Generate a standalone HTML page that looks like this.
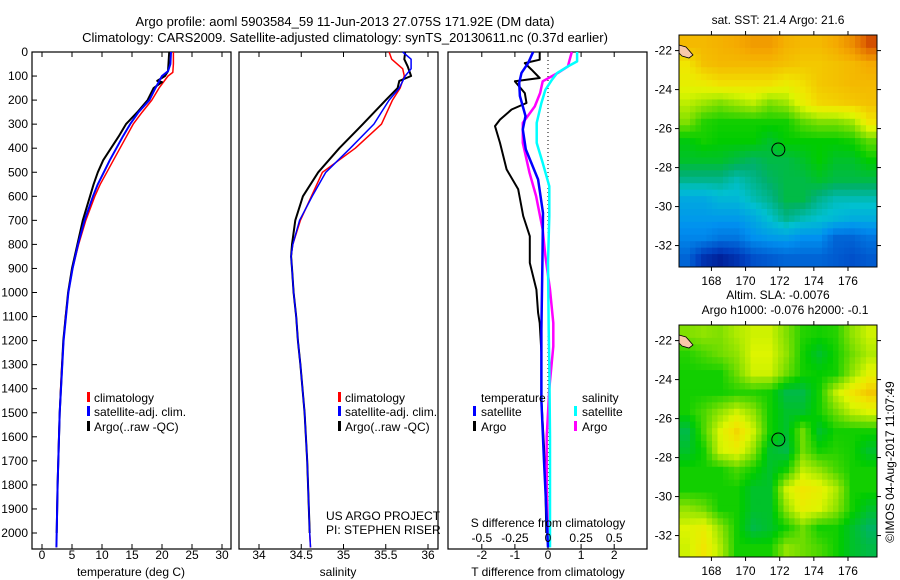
<!DOCTYPE html>
<html><head><meta charset="utf-8"><style>
body{margin:0;background:#fff;}
svg{display:block;font-family:"Liberation Sans",sans-serif;}
</style></head><body>
<svg id="c" width="900" height="580" viewBox="0 0 900 580">
<g id="maps"></g>
<text x="345" y="26" font-size="13" text-anchor="middle">Argo profile: aoml 5903584_59 11-Jun-2013 27.075S 171.92E (DM data)</text>
<text x="345" y="42" font-size="13" text-anchor="middle">Climatology: CARS2009. Satellite-adjusted climatology: synTS_20130611.nc (0.37d earlier)</text>
<g id="g"></g>
</svg>
<script>
// ---------- data ----------
const depthTick=[0,100,200,300,400,500,600,700,800,900,1000,1100,1200,1300,1400,1500,1600,1700,1800,1900,2000];
const tempTicks=[0,5,10,15,20,25,30];
const salTicks=[34,34.5,35,35.5,36];
const salTickLabels=['34','34.5','35','35.5','36'];
const tdTicks=[-2,-1,0,1,2];
const sdTicks=[-0.5,-0.25,0,0.25,0.5];
const sdTickLabels=['-0.5','-0.25','0','0.25','0.5'];

const tClimD=[0,50,85,100,150,200,250,300,350,400,450,500,550,600,700,800,900,1000,1100,1200,1300,1400,1500,1600,1700,1800,1900,2000,2060];
const tClim=[21.9,21.9,21.8,21.0,19.5,18.3,16.7,15.2,14.1,13.0,11.9,10.8,9.7,8.8,7.3,6.1,5.1,4.4,3.9,3.6,3.3,3.1,2.95,2.8,2.7,2.6,2.5,2.45,2.4];
const tSatD=[0,50,80,100,150,200,250,300,350,400,450,500,550,600,700,800,900,1000,1200,1500,1800,2000,2060];
const tSat=[21.5,21.4,21.0,20.0,18.9,17.9,16.1,14.7,13.5,12.4,11.3,10.3,9.3,8.5,7.1,6.0,5.1,4.4,3.6,2.95,2.6,2.45,2.4];
const tArgoD=[0,80,100,120,125,150,200,250,300,350,400,450,500,550,600,700,800,900,1000,1200,1500,1800,2000];
const tArgo=[21.2,21.0,20.5,19.2,20.0,18.6,17.6,15.9,14.0,12.8,11.5,10.2,9.3,8.6,8.0,6.8,5.9,5.0,4.35,3.55,2.95,2.6,2.45];

const sClimD=[0,30,70,100,150,200,300,400,500,600,700,800,850,900,1000,1100,1200,1300,1500,1700,2000,2060];
const sClim=[35.54,35.57,35.70,35.72,35.67,35.58,35.45,35.14,34.75,34.62,34.49,34.40,34.38,34.39,34.41,34.44,34.46,34.49,34.54,34.57,34.60,34.61];
const sSatD=[0,30,70,100,150,200,300,400,500,600,700,800,850,900,1000,1100,1200,1300,1500,1700,2000,2060];
const sSat=[35.70,35.80,35.80,35.73,35.66,35.54,35.36,35.08,34.79,34.63,34.48,34.40,34.38,34.39,34.41,34.44,34.46,34.49,34.54,34.57,34.60,34.61];
const sArgoD=[0,30,60,100,120,150,200,300,400,500,600,700,800,850,900,1000,1100,1200,1300,1500,1700,2000];
const sArgo=[35.73,35.72,35.76,35.80,35.66,35.64,35.50,35.23,34.95,34.70,34.52,34.43,34.39,34.38,34.39,34.41,34.44,34.46,34.49,34.54,34.57,34.60];

const dTSatD=[0,46,87,129,183,266,322,405,530,669,877,1154,1279,1450,1700,1900,2060];
const dTSat=[-0.45,-0.6,-0.8,-0.87,-0.85,-0.68,-0.76,-0.67,-0.3,-0.15,-0.17,-0.2,-0.2,-0.2,-0.12,-0.05,0];
const dTArgoD=[0,32,46,73,108,122,171,212,239,281,308,378,488,571,682,766,877,988,1085,1127,1250,1450,1640,1800,2000];
const dTArgo=[-0.25,-0.25,-0.7,-0.5,-0.25,-1.0,-0.7,-0.65,-1.1,-1.45,-1.6,-1.45,-1.25,-0.9,-0.75,-0.55,-0.55,-0.35,-0.3,-0.25,-0.2,-0.2,-0.12,-0.08,-0.05];
const dSArgoD=[0,39,60,87,122,171,226,295,378,502,599,738,849,988,1127,1224,1400,1600,1800,2000];
const dSArgo=[0.18,0.16,0.15,0.075,-0.04,-0.06,-0.1,-0.19,-0.19,-0.14,-0.09,-0.04,-0.02,0.015,0.04,0.04,0.01,-0.01,-0.01,0];
const dSSatD=[0,39,60,87,115,157,212,295,378,461,558,682,877,1154,1300,1600,1900,2060];
const dSSat=[0.22,0.22,0.15,0.07,0.03,-0.02,-0.05,-0.085,-0.085,-0.04,0.01,0.01,0,0.005,0.01,0.015,0.015,0.015];

const lonTicks=[168,170,172,174,176];
const latTicks=[-22,-24,-26,-28,-30,-32];
const sstGrid=[
[0.78,0.78,0.79,0.8,0.82,0.82,0.79,0.78,0.78,0.8,0.84,0.92],
[0.72,0.77,0.78,0.78,0.78,0.78,0.77,0.76,0.76,0.77,0.78,0.8],
[0.7,0.71,0.73,0.73,0.73,0.73,0.71,0.73,0.76,0.77,0.78,0.78],
[0.66,0.64,0.62,0.64,0.66,0.62,0.64,0.7,0.74,0.75,0.76,0.77],
[0.62,0.57,0.56,0.56,0.56,0.56,0.56,0.6,0.62,0.62,0.64,0.72],
[0.54,0.56,0.55,0.55,0.55,0.52,0.55,0.55,0.55,0.55,0.56,0.6],
[0.52,0.52,0.52,0.5,0.48,0.5,0.5,0.52,0.55,0.52,0.52,0.55],
[0.45,0.45,0.45,0.42,0.45,0.48,0.5,0.5,0.52,0.5,0.5,0.5],
[0.35,0.35,0.38,0.38,0.42,0.45,0.5,0.5,0.45,0.42,0.42,0.42],
[0.32,0.32,0.32,0.32,0.35,0.4,0.45,0.42,0.4,0.38,0.36,0.36],
[0.28,0.28,0.25,0.25,0.3,0.32,0.33,0.3,0.3,0.22,0.22,0.25],
[0.22,0.12,0.08,0.12,0.18,0.2,0.22,0.22,0.22,0.2,0.18,0.2]];
const slaGrid=[
[0.62,0.63,0.62,0.65,0.67,0.67,0.62,0.57,0.56,0.57,0.63,0.67],
[0.57,0.59,0.61,0.63,0.68,0.68,0.63,0.56,0.52,0.56,0.61,0.65],
[0.56,0.56,0.56,0.61,0.67,0.67,0.61,0.56,0.55,0.56,0.63,0.69],
[0.56,0.56,0.56,0.57,0.57,0.56,0.5,0.5,0.56,0.66,0.72,0.76],
[0.56,0.59,0.63,0.67,0.63,0.56,0.52,0.52,0.56,0.61,0.66,0.68],
[0.5,0.59,0.68,0.74,0.67,0.56,0.52,0.61,0.52,0.56,0.56,0.56],
[0.52,0.56,0.67,0.7,0.63,0.52,0.5,0.61,0.56,0.57,0.56,0.52],
[0.56,0.56,0.56,0.59,0.56,0.52,0.56,0.66,0.63,0.59,0.56,0.56],
[0.56,0.56,0.56,0.56,0.52,0.52,0.67,0.72,0.7,0.65,0.56,0.56],
[0.63,0.61,0.56,0.56,0.52,0.52,0.63,0.7,0.68,0.63,0.56,0.52],
[0.68,0.7,0.63,0.56,0.5,0.52,0.56,0.61,0.56,0.56,0.52,0.48],
[0.67,0.72,0.65,0.56,0.56,0.56,0.63,0.61,0.59,0.56,0.52,0.5]];
const argoLon=171.92, argoLat=-27.075;

// ---------- drawing ----------
const NS='http://www.w3.org/2000/svg';
const G=document.getElementById('g'), M=document.getElementById('maps');
function el(tag,attrs,parent,txt){const e=document.createElementNS(NS,tag);for(const k in attrs)e.setAttribute(k,attrs[k]);if(txt!==undefined)e.textContent=txt;(parent||G).appendChild(e);return e;}
const Y0=52, PY=0.2405;
const yD=d=>Y0+d*PY;
const PT=52, PB=549;
function frame(x0,x1,name){
  const r=el('rect',{x:x0,y:PT,width:x1-x0,height:PB-PT,fill:'none',stroke:'#000','stroke-width':1.2});
  
  
}
function xticks(xs,fn,labels,ly){
  xs.forEach((v,i)=>{const x=fn(v);
    el('line',{x1:x,x2:x,y1:PT,y2:PT+5,stroke:'#000'});
    el('line',{x1:x,x2:x,y1:PB,y2:PB-5,stroke:'#000'});
    if(labels){const t=el('text',{x:x,y:ly,'font-size':12,'text-anchor':'middle'},G,labels[i]);
      
      }
  });
}
function line(ds,vs,fn,color,w,name){
  const p=ds.map((d,i)=>(i?'L':'M')+fn(vs[i]).toFixed(1)+' '+yD(d).toFixed(1)).join(' ');
  const e=el('path',{d:p,fill:'none',stroke:color,'stroke-width':w,'stroke-linejoin':'round'});
  
  
}
function txt(x,y,s,name,anchor){const t=el('text',{x:x,y:y,'font-size':12,'text-anchor':anchor||'start'},G,s);
  
  return t;}
function legBar(x,y,color){el('rect',{x:x,y:y-10,width:3,height:10,fill:color});}

// panel 1 temperature
const xT=v=>42+v*6;
frame(32,231,'temperature-panel');
depthTick.forEach(d=>{const y=yD(d);el('line',{x1:32,x2:37,y1:y,y2:y,stroke:'#000'});
  const t=el('text',{x:28,y:y+4,'font-size':12,'text-anchor':'end'},G,String(d));
  
  });
xticks(tempTicks,xT,tempTicks.map(String),559);
line(tClimD,tClim,xT,'#f00',1.5,'temp-climatology-line');
line(tArgoD,tArgo,xT,'#000',2,'temp-argo-line');
line(tSatD,tSat,xT,'#00f',2,'temp-satellite-line');
txt(131,576,'temperature (deg C)','x-axis-title-temperature','middle');
legBar(87,402,'#f00');txt(94,402,'climatology','legend-climatology');
legBar(87,416,'#00f');txt(94,416,'satellite-adj. clim.','legend-satellite');
legBar(87,431,'#000');txt(94,431,'Argo(..raw -QC)','legend-argo');

// panel 2 salinity
const xS=v=>259+(v-34)*84.5;
frame(239,438,'salinity-panel');
xticks(salTicks,xS,salTickLabels,559);
line(sClimD,sClim,xS,'#f00',1.5,'sal-climatology-line');
line(sArgoD,sArgo,xS,'#000',2,'sal-argo-line');
line(sSatD,sSat,xS,'#00f',1.5,'sal-satellite-line');
txt(338,576,'salinity','x-axis-title-salinity','middle');
legBar(338,402,'#f00');txt(345,402,'climatology','legend-climatology-2');
legBar(338,416,'#00f');txt(345,416,'satellite-adj. clim.','legend-satellite-2');
legBar(338,431,'#000');txt(345,431,'Argo(..raw -QC)','legend-argo-2');
txt(326,520,'US ARGO PROJECT','project-label');
txt(326,534,'PI: STEPHEN RISER','pi-label');

// panel 3 differences
const xTD=v=>548+v*33.1;
const xSD=v=>548+v*132.4;
frame(448,647,'difference-panel');
xticks(tdTicks,xTD,tdTicks.map(String),559);
el('line',{x1:xTD(0),x2:xTD(0),y1:PT,y2:PB,stroke:'#000','stroke-dasharray':'1,3'});
line(dTArgoD,dTArgo,xTD,'#000',2,'tdiff-argo-line');
line(dSArgoD,dSArgo,xSD,'#f0f',2.5,'sdiff-argo-line');
line(dSSatD,dSSat,xSD,'#0ff',2.5,'sdiff-satellite-line');
line(dTSatD,dTSat,xTD,'#00f',2.5,'tdiff-satellite-line');
sdTicks.forEach((v,i)=>{const t=el('text',{x:xSD(v),y:542,'font-size':12,'text-anchor':'middle'},G,sdTickLabels[i]);
  
  });
txt(548,527,'S difference from climatology','s-axis-title','middle');
txt(548,576,'T difference from climatology','t-axis-title','middle');
txt(481,402,'temperature','legend-temperature-head');
txt(582,402,'salinity','legend-salinity-head');
legBar(473,416,'#00f');txt(481,416,'satellite','legend-t-satellite');
legBar(473,431,'#000');txt(481,431,'Argo','legend-t-argo');
legBar(574,416,'#0ff');txt(582,416,'satellite','legend-s-satellite');
legBar(574,431,'#f0f');txt(582,431,'Argo','legend-s-argo');

// maps
const stops=[[0,[0,0,112]],[0.15,[0,64,192]],[0.3,[0,144,240]],[0.4,[0,192,208]],[0.47,[0,176,112]],[0.55,[0,204,0]],[0.62,[128,224,0]],[0.68,[221,245,0]],[0.72,[240,230,0]],[0.8,[245,170,0]],[0.9,[224,100,0]],[1,[160,0,0]]];
function cmap(v){for(let i=1;i<stops.length;i++){if(v<=stops[i][0]){const a=stops[i-1],b=stops[i],t=(v-a[0])/(b[0]-a[0]);
  const c=a[1].map((x,k)=>Math.round(x+(b[1][k]-x)*t));return `rgb(${c})`;}}return 'rgb(160,0,0)';}
function drawMap(grid,top,name,title1,title2){
  const L=679,R=877,T=top,B=top+232,lon0=166.1,lon1=177.7,lat0=-21.2,lat1=-33.1;
  const xL=v=>L+(v-lon0)/(lon1-lon0)*(R-L), yL=v=>T+(v-lat0)/(lat1-lat0)*(B-T);
  const g=el('g',{},M);
  
  
  const n=grid.length,m=grid[0].length,S=3,NR=n*S,NC=m*S,cw=(R-L)/NC,ch=(B-T)/NR;
  for(let r=0;r<NR;r++)for(let c=0;c<NC;c++){
    let fr=Math.min(Math.max((r+0.5)/S-0.5,0),n-1),fc=Math.min(Math.max((c+0.5)/S-0.5,0),m-1);
    const r0=Math.floor(fr),c0=Math.floor(fc),r1=Math.min(r0+1,n-1),c1=Math.min(c0+1,m-1),a=fr-r0,b=fc-c0;
    const v=grid[r0][c0]*(1-a)*(1-b)+grid[r0][c1]*(1-a)*b+grid[r1][c0]*a*(1-b)+grid[r1][c1]*a*b;
    el('rect',{x:(L+c*cw).toFixed(2),y:(T+r*ch).toFixed(2),width:(cw+0.5).toFixed(2),height:(ch+0.5).toFixed(2),fill:cmap(v)},g);
  }
  el('path',{d:`M${L} ${T+10} L${L+7} ${T+12} L${L+14} ${T+20} L${L+10} ${T+23} L${L+3} ${T+21} L${L} ${T+18}Z`,fill:'#f8c8a8',stroke:'#000','stroke-width':0.8},g);
  el('circle',{cx:xL(argoLon),cy:yL(argoLat),r:6.5,fill:'none',stroke:'#000','stroke-width':1},g);
  el('rect',{x:L,y:T,width:R-L,height:B-T,fill:'none',stroke:'#000','stroke-width':1},g);
  lonTicks.forEach(v=>{el('line',{x1:xL(v),x2:xL(v),y1:T-4,y2:T,stroke:'#000'},g);el('line',{x1:xL(v),x2:xL(v),y1:B,y2:B+4,stroke:'#000'},g);
    const t=el('text',{x:xL(v),y:B+18,'font-size':12,'text-anchor':'middle'},g,String(v));
    
    });
  latTicks.forEach(v=>{el('line',{x1:L-4,x2:L,y1:yL(v),y2:yL(v),stroke:'#000'},g);el('line',{x1:R,x2:R+4,y1:yL(v),y2:yL(v),stroke:'#000'},g);
    const t=el('text',{x:L-7,y:yL(v)+4,'font-size':12,'text-anchor':'end'},g,String(v));
    
    });
  if(title2){const t=el('text',{x:778,y:T-26,'font-size':12,'text-anchor':'middle'},g,title1);
    
    
    const t2=el('text',{x:785,y:T-11,'font-size':12,'text-anchor':'middle'},g,title2);
    
    }
  else{const t=el('text',{x:778,y:T-11,'font-size':12,'text-anchor':'middle'},g,title1);
    
    }
}
drawMap(sstGrid,35,'sst-map','sat. SST: 21.4  Argo: 21.6');
drawMap(slaGrid,325,'sla-map','Altim. SLA: -0.0076','Argo h1000: -0.076 h2000: -0.1');
const im=el('text',{x:0,y:0,'font-size':12,'text-anchor':'middle',transform:'translate(894,462) rotate(-90)'},M,'©IMOS 04-Aug-2017 11:07:49');


</script>
</body></html>
